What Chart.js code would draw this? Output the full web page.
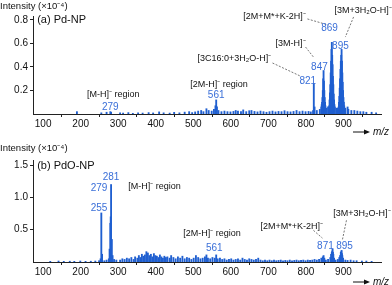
<!doctype html>
<html>
<head>
<title>Pd-NP / PdO-NP spectra</title>
<script src="https://cdn.jsdelivr.net/npm/chart.js@4/dist/chart.umd.min.js"></script>
<style>
  body { margin: 0; background: #fff; }
  .panel { position: absolute; left: 0; width: 392px; }
</style>
</head>
<body>
<div class="panel" style="top:0;height:142px"><canvas id="top" width="392" height="142"></canvas></div>
<div class="panel" style="top:142px;height:143px"><canvas id="bottom" width="392" height="143"></canvas></div>
<script>
// (a) Pd-NP, m/z and intensity (x10^-4)
var mzA = [190, 255, 269, 279, 281, 305, 313, 327, 339, 353, 365, 381, 393, 409, 421, 437, 449, 463, 477, 489, 497,
  505, 513, 521, 527, 535, 541, 549, 555, 559, 561, 563, 567, 575,
  583, 591, 599, 607, 613, 619, 627, 633, 641, 649, 655, 663, 671, 679, 687, 695, 703, 711, 719, 727, 735, 743, 751, 759, 767, 775, 783, 791, 799, 807, 813,
  819, 821, 823, 829, 837,
  841, 842, 843, 844, 845, 846, 847, 848, 849, 850, 851, 852, 855, 859,
  861, 862, 863, 864, 865, 866, 867, 868, 869, 870, 871, 872, 873, 874, 875, 876, 877, 881, 885,
  887, 888, 889, 890, 891, 892, 893, 894, 895, 896, 897, 898, 899, 900, 901, 902, 905,
  911, 913, 921, 929, 937, 945, 953, 961, 975, 987];
var intA = [0.02, 0.01, 0.015, 0.02, 0.015, 0.01, 0.008, 0.012, 0.006, 0.01, 0.008, 0.012, 0.009, 0.018, 0.01, 0.008, 0.014, 0.01, 0.016, 0.02, 0.012,
  0.018, 0.025, 0.03, 0.02, 0.045, 0.03, 0.025, 0.04, 0.07, 0.12, 0.06, 0.03, 0.02,
  0.025, 0.02, 0.018, 0.022, 0.03, 0.025, 0.02, 0.035, 0.02, 0.028, 0.03, 0.022, 0.018, 0.025, 0.02, 0.015, 0.02, 0.025, 0.018, 0.022, 0.02, 0.028, 0.02, 0.018, 0.022, 0.03, 0.02, 0.025, 0.02, 0.022, 0.018,
  0.03, 0.26, 0.06, 0.03, 0.04,
  0.06, 0.08, 0.1, 0.14, 0.2, 0.3, 0.37, 0.28, 0.2, 0.14, 0.1, 0.07, 0.05, 0.06,
  0.05, 0.07, 0.12, 0.18, 0.25, 0.35, 0.45, 0.55, 0.61, 0.5, 0.42, 0.32, 0.25, 0.17, 0.12, 0.08, 0.06, 0.05, 0.05,
  0.06, 0.1, 0.15, 0.22, 0.3, 0.38, 0.45, 0.5, 0.55, 0.45, 0.35, 0.27, 0.2, 0.14, 0.1, 0.07, 0.05,
  0.06, 0.04, 0.03, 0.03, 0.025, 0.02, 0.02, 0.015, 0.015, 0.01];

// (b) PdO-NP
var mzB = [119, 141, 155, 171, 183, 199, 213, 227, 239, 249,
  253, 255, 257, 263, 269, 275, 277, 279, 280, 281, 283, 285, 289, 295,
  305, 311, 317, 323, 329, 335, 341, 345, 351, 355, 359, 363, 367, 371, 375, 379, 383, 387, 391, 395, 399, 403, 407, 411, 415, 419, 423, 427, 431, 437, 441, 447, 453, 459, 465, 471, 477, 483, 489, 495,
  501, 507, 513, 519, 525, 531, 535, 539, 545, 551, 557, 561, 565, 571, 577, 583, 589, 595, 601, 607, 613, 619, 625, 631, 637, 643, 649, 655, 661, 667, 673, 679, 685, 691, 697,
  703, 709, 715, 721, 727, 733, 739, 745, 751, 757, 763, 769, 775, 781, 787, 793, 799, 805, 811, 817, 823, 829, 835,
  841, 845, 847, 849, 853, 859, 865, 867, 869, 870, 871, 872, 873, 875, 879, 885, 889, 891, 893, 894, 895, 896, 897, 899, 905, 911, 919, 927, 935, 949, 961, 975];
var intB = [0.01, 0.015, 0.01, 0.012, 0.01, 0.015, 0.01, 0.012, 0.015, 0.02,
  0.05, 0.76, 0.12, 0.02, 0.03, 0.05, 0.2, 0.6, 0.7, 1.2, 0.35, 0.1, 0.04, 0.03,
  0.03, 0.05, 0.04, 0.06, 0.05, 0.07, 0.04, 0.08, 0.06, 0.1, 0.07, 0.12, 0.09, 0.11, 0.16, 0.14, 0.1, 0.12, 0.08, 0.13, 0.1, 0.09, 0.07, 0.11, 0.08, 0.06, 0.09, 0.07, 0.08, 0.06, 0.1, 0.07, 0.05, 0.08, 0.06, 0.09, 0.05, 0.07, 0.06, 0.04,
  0.06, 0.1, 0.07, 0.05, 0.06, 0.08, 0.11, 0.06, 0.05, 0.07, 0.06, 0.11, 0.05, 0.06, 0.04, 0.05, 0.03, 0.04, 0.05, 0.03, 0.04, 0.05, 0.03, 0.06, 0.04, 0.03, 0.05, 0.04, 0.03, 0.04, 0.06, 0.03, 0.02, 0.03, 0.02,
  0.03, 0.02, 0.03, 0.02, 0.025, 0.03, 0.02, 0.025, 0.02, 0.03, 0.02, 0.025, 0.03, 0.02, 0.025, 0.03, 0.02, 0.03, 0.025, 0.03, 0.04, 0.03, 0.04,
  0.06, 0.08, 0.1, 0.06, 0.03, 0.04, 0.07, 0.12, 0.15, 0.17, 0.2, 0.15, 0.12, 0.06, 0.03, 0.04, 0.07, 0.1, 0.15, 0.16, 0.18, 0.13, 0.1, 0.06, 0.03, 0.025, 0.03, 0.02, 0.02, 0.015, 0.015, 0.01];

var xTicks = [100, 200, 300, 400, 500, 600, 700, 800, 900, 1000];
var yTicksA = [0.2, 0.4, 0.6, 0.8];
var yTicksB = [0.5, 1.0, 1.5];

// text labels (x in m/z, y in intensity)
var notesA = [
  ['(a) Pd-NP', 84, 0.80, 'left', 'k', 11],
  ['[M-H]\u207B region', 217, 0.17, 'left', 'k', 9],
  ['279', 279, 0.06, 'center', 'b', 10],
  ['[2M-H]\u207B region', 492, 0.247, 'left', 'k', 9],
  ['561', 561, 0.162, 'center', 'b', 10],
  ['[3C16:0+3H\u2082O-H]\u207B', 511, 0.468, 'left', 'k', 9],
  ['821', 805, 0.281, 'center', 'b', 10],
  ['[3M-H]\u207B', 719, 0.604, 'left', 'k', 9],
  ['847', 836, 0.40, 'center', 'b', 10],
  ['[2M+M*+K-2H]\u207B', 633, 0.826, 'left', 'k', 9],
  ['869', 863, 0.732, 'center', 'b', 10],
  ['[3M+3H\u2082O-H]\u207B', 876, 0.877, 'left', 'k', 9],
  ['895', 892, 0.579, 'center', 'b', 10]
];
var leadersA = [[711, 0.434, 785, 0.323], [799, 0.570, 820, 0.485], [804, 0.809, 860, 0.757], [927, 0.826, 905, 0.655]];

var notesB = [
  ['(b) PdO-NP', 84, 1.48, 'left', 'k', 11],
  ['281', 281, 1.32, 'center', 'b', 10],
  ['279', 249, 1.14, 'center', 'b', 10],
  ['255', 249, 0.83, 'center', 'b', 10],
  ['[M-H]\u207B region', 327, 1.17, 'left', 'k', 9],
  ['[2M-H]\u207B region', 473, 0.446, 'left', 'k', 9],
  ['561', 556, 0.215, 'center', 'b', 10],
  ['[2M+M*+K-2H]\u207B', 679, 0.554, 'left', 'k', 9],
  ['871', 852, 0.246, 'center', 'b', 10],
  ['895', 903, 0.246, 'center', 'b', 10],
  ['[3M+3H\u2082O-H]\u207B', 873, 0.754, 'left', 'k', 9]
];
var leadersB = [[820, 0.49, 844, 0.37], [908, 0.646, 897, 0.338]];

var FONT = "'Liberation Sans', Arial, sans-serif";
var BLUE = '#1f5fd0';
var NUMBLUE = '#3a6fd8';

var notesPlugin = {
  id: 'notes',
  afterDraw: function(chart) {
    var o = chart.options.plugins.notes;
    var ctx = chart.ctx, xs = chart.scales.x, ys = chart.scales.y;
    ctx.save();
    ctx.textBaseline = 'middle';
    // axis header
    ctx.fillStyle = '#111';
    ctx.font = '9.5px ' + FONT;
    ctx.textAlign = 'left';
    ctx.fillText('Intensity (\u00D710\u207B\u2074)', 0, o.headY);
    // leader lines
    ctx.strokeStyle = '#555';
    ctx.lineWidth = 0.8;
    ctx.setLineDash([2, 1.5]);
    o.leaders.forEach(function(l) {
      ctx.beginPath();
      ctx.moveTo(xs.getPixelForValue(l[0]), ys.getPixelForValue(l[1]));
      ctx.lineTo(xs.getPixelForValue(l[2]), ys.getPixelForValue(l[3]));
      ctx.stroke();
    });
    ctx.setLineDash([]);
    o.notes.forEach(function(n) {
      ctx.font = n[5] + 'px ' + FONT;
      ctx.fillStyle = n[4] === 'b' ? NUMBLUE : '#111';
      ctx.textAlign = n[3];
      ctx.fillText(n[0], xs.getPixelForValue(n[1]), ys.getPixelForValue(n[2]));
    });
    // m/z arrow
    var ay = o.arrowY;
    ctx.strokeStyle = '#111';
    ctx.lineWidth = 1;
    ctx.beginPath();
    ctx.moveTo(353, ay); ctx.lineTo(367, ay); ctx.stroke();
    ctx.fillStyle = '#111';
    ctx.beginPath();
    ctx.moveTo(370, ay); ctx.lineTo(364, ay - 2.5); ctx.lineTo(364, ay + 2.5); ctx.closePath(); ctx.fill();
    ctx.font = 'italic 10px ' + FONT;
    ctx.textAlign = 'left';
    ctx.fillText('m/z', 373, ay);
    ctx.restore();
  }
};

function makeChart(id, mz, inten, yMax, yTicks, notes, leaders, pad, xH, headY, arrowY) {
  var pts = mz.map(function(m, i) { return { x: m, y: inten[i] }; });
  return new Chart(document.getElementById(id).getContext('2d'), {
    type: 'bar',
    data: { datasets: [{ data: pts, backgroundColor: BLUE, barThickness: 1.2, borderWidth: 0 }] },
    plugins: [notesPlugin],
    options: {
      responsive: false,
      animation: false,
      layout: { padding: { top: pad, right: 11, left: 0, bottom: 0 } },
      plugins: {
        legend: { display: false },
        tooltip: { enabled: false },
        notes: { notes: notes, leaders: leaders, headY: headY, arrowY: arrowY }
      },
      scales: {
        x: {
          type: 'linear', min: 73, max: 1000, offset: false,
          afterBuildTicks: function(s) { s.ticks = xTicks.map(function(v) { return { value: v }; }); },
          afterFit: function(s) { s.height = xH; },
          grid: { drawOnChartArea: false, tickLength: 3, color: '#222' },
          border: { color: '#222' },
          ticks: {
            padding: 1, maxRotation: 0, color: '#111', font: { family: FONT, size: 10 },
            callback: function(v) { return v < 1000 ? v : ''; }
          }
        },
        y: {
          min: 0, max: yMax,
          afterBuildTicks: function(s) { s.ticks = yTicks.map(function(v) { return { value: v }; }); },
          afterFit: function(s) { s.width = 33; },
          grid: { drawOnChartArea: false, tickLength: 3, color: '#222' },
          border: { color: '#222' },
          ticks: {
            padding: 2, color: '#111', font: { family: FONT, size: 10 },
            callback: function(v) { return v.toFixed(1); }
          }
        }
      }
    }
  });
}

window.onload = function() {
  makeChart('top', mzA, intA, 0.834, yTicksA, notesA, leadersA, 16, 28, 6, 132);
  makeChart('bottom', mzB, intB, 1.58, yTicksB, notesB, leadersB, 18, 23, 6, 140);
};
</script>
</body>
</html>
